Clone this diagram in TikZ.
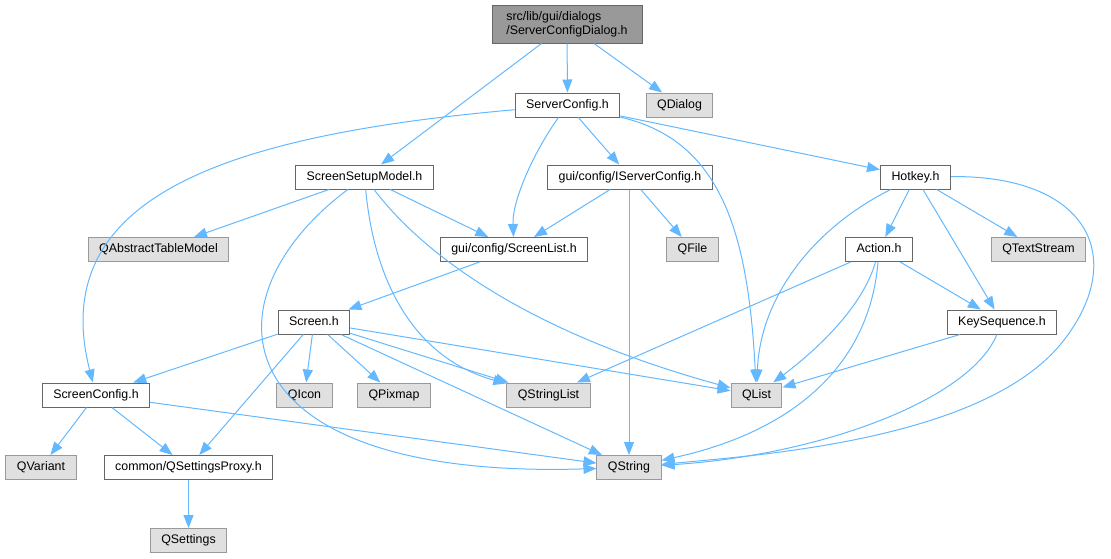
\documentclass[tikz,border=0pt]{standalone}
\usepackage{fontspec}
\setmainfont{Liberation Sans}
\usepackage{tikz}
\usetikzlibrary{arrows.meta,positioning}
\usepackage{xcolor}
\definecolor{edgeblue}{HTML}{63B8FF}
\definecolor{boxline}{HTML}{666666}
\definecolor{extline}{HTML}{999999}
\definecolor{extfill}{HTML}{E0E0E0}
\definecolor{rootfill}{HTML}{999999}

\begin{document}
\begin{tikzpicture}[x=1pt,y=-1pt,
		box/.style={draw,rectangle,line width=1pt,minimum height=24pt,inner xsep=11pt,inner ysep=0pt,
			text height=9pt,text depth=2.6pt,font=\fontsize{12.4pt}{14pt}\selectfont},
		hdr/.style={box,draw=boxline,fill=white},
		ext/.style={box,draw=extline,fill=extfill},
		rootbox/.style={box,draw=boxline,fill=rootfill,align=left,minimum width=150pt,minimum height=38pt,
			text height=,text depth=},
		dep/.style={-{Triangle[length=13pt,width=10pt]},draw=edgeblue,line width=1pt}]
					\useasboundingbox (0,0) rectangle (1111,558);
					\node[rootbox] (root) at (567,24) {src/lib/gui/dialogs\\/ServerConfigDialog.h};
					\node[hdr] (sc) at (567.5,105) {ServerConfig.h};
					\node[ext] (qdialog) at (679.5,105) {QDialog};
					\node[hdr] (ssm) at (364.5,177) {ScreenSetupModel.h};
					\node[hdr] (isc) at (630,177) {gui/config/IServerConfig.h};
					\node[hdr] (hotkey) at (915.5,177) {Hotkey.h};
					\node[ext] (qatm) at (158.5,249.5) {QAbstractTableModel};
					\node[hdr] (slist) at (514,249.5) {gui/config/ScreenList.h};
					\node[ext] (qfile) at (692.5,249.5) {QFile};
					\node[hdr] (action) at (879,249.5) {Action.h};
					\node[ext] (qts) at (1038.5,249.5) {QTextStream};
					\node[hdr] (screen) at (314,322) {Screen.h};
					\node[hdr] (keyseq) at (1002,322) {KeySequence.h};
					\node[hdr] (scfg) at (96,395) {ScreenConfig.h};
					\node[ext] (qicon) at (304.5,395) {QIcon};
					\node[ext] (qpixmap) at (394,395) {QPixmap};
					\node[ext] (qstrlist) at (548.5,395) {QStringList};
					\node[ext] (qlist) at (756.5,395) {QList};
					\node[ext] (qvariant) at (41,467.5) {QVariant};
					\node[hdr] (qsp) at (188.5,467.5) {common/QSettingsProxy.h};
					\node[ext] (qstring) at (629,467.5) {QString};
					\node[ext] (qsettings) at (188.5,540.5) {QSettings};
					% root file
					\draw[dep] (root) -- (sc);
					\draw[dep] (root) -- (qdialog);
					\draw[dep] (root.south west) ++(50,0) coordinate (r1) (r1) -- (ssm);
					% ServerConfig.h
					\draw[dep] (sc) .. controls (230,135) and (45,195) .. (scfg);
					\draw[dep] (sc) .. controls (535,150) and (512,200) .. (slist);
					\draw[dep] (sc) -- (isc);
					\draw[dep] (sc) .. controls (720,140) and (748,230) .. (qlist);
					\draw[dep] (sc) -- (hotkey);
					% ScreenSetupModel.h
					\draw[dep] (ssm) -- (qatm);
					\draw[dep] (ssm) -- (slist);
					\draw[dep] (ssm) .. controls (200,300) and (220,480) .. (qstring);
					\draw[dep] (ssm) .. controls (375,290) and (420,360) .. (qstrlist);
					\draw[dep] (ssm) .. controls (420,250) and (520,330) .. (qlist);
					% gui/config/IServerConfig.h
					\draw[dep] (isc) -- (slist);
					\draw[dep] (isc) -- (qfile);
					\draw[dep] (isc.south -| qstring) -- (qstring);
					% Hotkey.h
					\draw[dep] (hotkey) -- (action);
					\draw[dep] (hotkey) .. controls (810,230) and (760,300) .. (qlist);
					\draw[dep] (hotkey) -- (qts);
					\draw[dep] (hotkey) -- (keyseq);
					\draw[dep] (hotkey) .. controls (1090,175) and (1130,260) .. (1060,345)
						.. controls (980,440) and (760,455) .. (qstring);
					% lower headers
					\draw[dep] (slist) -- (screen);
					\draw[dep] (action) -- (qstrlist);
					\draw[dep] (action) .. controls (862,310) and (810,355) .. (qlist);
					\draw[dep] (action) .. controls (870,360) and (800,430) .. (qstring);
					\draw[dep] (action) -- (keyseq);
					\draw[dep] (keyseq) -- (qlist);
					\draw[dep] (keyseq) .. controls (970,400) and (820,455) .. (qstring);
					% Screen.h
					\draw[dep] (screen) -- (scfg);
					\draw[dep] (screen) -- (qsp);
					\draw[dep] (screen) -- (qicon);
					\draw[dep] (screen) -- (qpixmap);
					\draw[dep] (screen) -- (qstrlist);
					\draw[dep] (screen) -- (qstring);
					\draw[dep] (screen) -- (qlist);
					% ScreenConfig.h
					\draw[dep] (scfg) -- (qvariant);
					\draw[dep] (scfg) -- (qsp);
					\draw[dep] (scfg) -- (qstring);
					\draw[dep] (qsp) -- (qsettings);
				\end{tikzpicture}
\end{document}
